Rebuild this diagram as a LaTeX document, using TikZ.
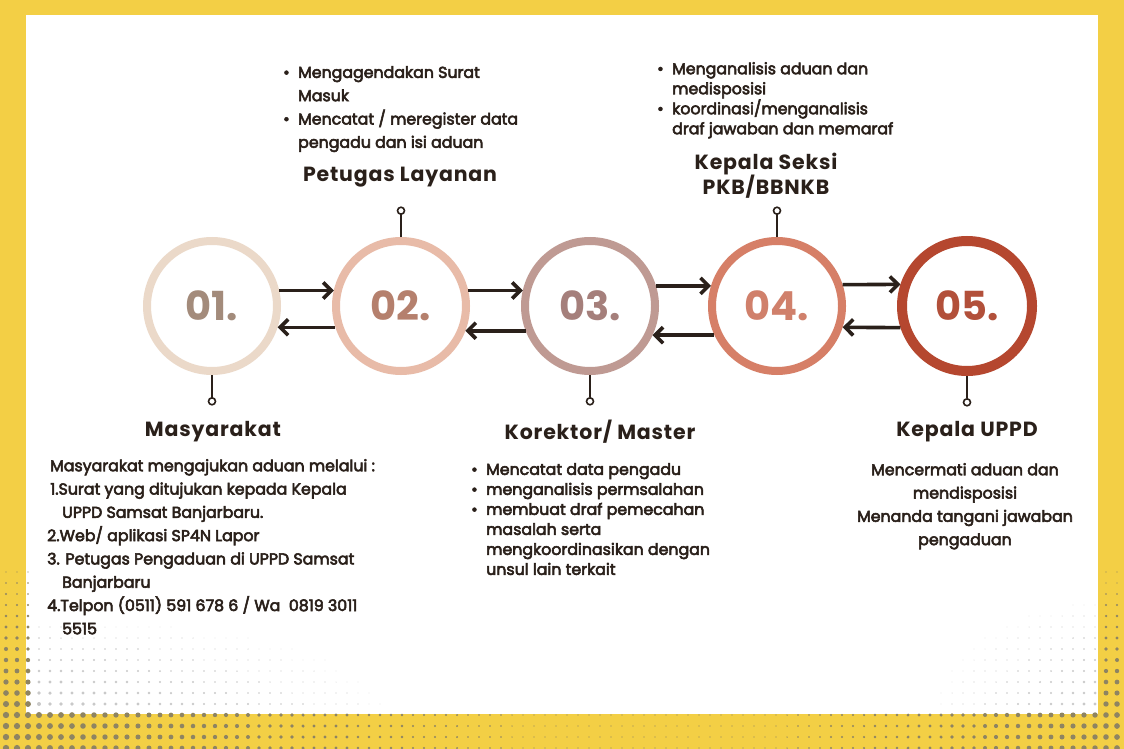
\documentclass[tikz,border=0pt]{standalone}
\usepackage{fontspec}
\setmainfont{Poppins}
\newfontfamily\bodyfont{Poppins}[FakeBold=3.5]
\newfontfamily\titlefont{Poppins}[LetterSpace=4]
\usetikzlibrary{arrows.meta, positioning}
\definecolor{bgYellow}{HTML}{F3CF45}
\definecolor{inkDark}{HTML}{2A201A}
\definecolor{dotOlive}{HTML}{8E8462}
\definecolor{dotGray}{HTML}{C9C9C9}
\definecolor{ringA}{HTML}{EBD9C9}
\definecolor{ringB}{HTML}{E8BBA8}
\definecolor{ringC}{HTML}{BF9A93}
\definecolor{ringD}{HTML}{D67F67}
\definecolor{ringE}{HTML}{B5472F}
\definecolor{numA}{HTML}{A38B7B}
\definecolor{numB}{HTML}{B5806D}
\definecolor{numC}{HTML}{A57F7B}
\definecolor{numD}{HTML}{D0806B}
\definecolor{numE}{HTML}{B2503A}
\newcommand{\bul}{\makebox[15pt][l]{\textbullet}}
\newcommand{\ind}{\hspace*{15pt}}
\tikzset{
    % Shapes
    ring/.style={circle, line width=8pt, minimum size=130pt, inner sep=0pt, fill=white,
                 font=\fontsize{40}{40}\selectfont\bfseries},
    pinDot/.style={circle, draw=inkDark, line width=1.6pt, minimum size=7pt, inner sep=0pt, fill=white},
    % Flow & Labels
    flow/.style={line width=3.6pt, draw=inkDark, -{Straight Barb[length=8pt, width=16pt]}},
    pinLine/.style={line width=1.5pt, draw=inkDark},
    title/.style={font=\titlefont\bfseries\fontsize{20.5}{25}\selectfont, text=inkDark, align=center, inner sep=0pt},
    body/.style={font=\bodyfont\fontsize{15.8}{23.3}\selectfont, text=inkDark, align=left, inner sep=0pt}
}
\begin{document}
\begin{tikzpicture}[x=1pt, y=-1pt]

% frame
\fill[bgYellow] (0,0) rectangle (1124,749);
\useasboundingbox (0,0) rectangle (1124,749);
\fill[white] (26,15) rectangle (1098,714);

% halftone dots
\foreach \i in {0,...,101}{
  \foreach \j in {0,...,17}{
    \pgfmathsetmacro\dx{6+11*\i}
    \pgfmathsetmacro\dy{561+11*\j}
    \pgfmathtruncatemacro\inwhite{(\dx>28)&&(\dx<1096)&&(\dy<712)}
    \ifnum\inwhite=1
      \pgfmathsetmacro\rad{max(2.3*max(0,1-\dx/470)*max(0,(\dy-595)/115), 1.7*max(0,(\dx-880)/215)*max(0,(\dy-565)/145))}
      \ifdim\rad pt>0.4pt \fill[dotGray] (\dx,\dy) circle[radius=\rad]; \fi
    \else
      \pgfmathsetmacro\rad{(0.7+2.5*max(0,1-\dx/520)+2.2*max(0,(\dx-780)/344))*min(1,max(0,(\dy-540)/170))}
      \ifdim\rad pt>0.4pt \fill[dotOlive] (\dx,\dy) circle[radius=\rad]; \fi
    \fi
  }
}

% steps
\node[ring, draw=ringA, text=numA] (c1) at (212,306) {01.};
\node[ring, draw=ringB, text=numB, right=51pt of c1] (c2) {02.};
\node[ring, draw=ringC, text=numC, right=51pt of c2] (c3) {03.};
\node[ring, draw=ringD, text=numD, right=49pt of c3] (c4) {04.};
\node[ring, draw=ringE, text=numE, right=51pt of c4, line width=10pt, minimum size=130pt] (c5) {05.};

\draw[flow] (c1.13) -- (c2.167);
\draw[flow] (c2.-162) -- (c1.-18);
\draw[flow] (c2.13) -- (c3.167);
\draw[flow] (c3.-159) -- (c2.-21);
\draw[flow] (c3.17) -- (c4.163);
\draw[flow] (c4.-155) -- (c3.-25);
\draw[flow] (c4.18) -- (c5.162);
\draw[flow] (c5.-162) -- (c4.-18);

% pins
\node[pinDot, below=22pt of c1] (p1) {};
\node[pinDot, above=22pt of c2] (p2) {};
\node[pinDot, below=22pt of c3] (p3) {};
\node[pinDot, above=22pt of c4] (p4) {};
\node[pinDot, below=22pt of c5] (p5) {};
\foreach \n in {1,...,5} \draw[pinLine] (c\n) -- (p\n);

% titles
\node[title] (t1) at (213,432) {Masyarakat};
\node[title] (t2) at (400,177) {Petugas Layanan};
\node[title] (t3) at (600,432) {Korektor/ Master};
\node[title] (t4) at (766,176) {Kepala Seksi\\PKB/BBNKB};
\node[title] (t5) at (967,432) {Kepala UPPD};

% descriptions
\node[body, anchor=north west] (d1) at (47,459) {%
\hspace*{3pt}Masyarakat mengajukan aduan melalui :\\
\hspace*{3pt}1.Surat yang ditujukan kepada Kepala\\
\ind UPPD Samsat Banjarbaru.\\
2.Web/ aplikasi SP4N Lapor\\
3. Petugas Pengaduan di UPPD Samsat\\
\ind Banjarbaru\\
4.Telpon (0511) 591 678 6 / Wa~~0819 3011\\
\ind 5515};
\node[body, anchor=north west] (d2) at (283,66) {%
\bul Mengagendakan Surat\\
\ind Masuk\\
\bul Mencatat / meregister data\\
\ind pengadu dan isi aduan};
\node[body, anchor=north west, font=\bodyfont\fontsize{15.8}{20}\selectfont] (d3) at (471,463) {%
\bul Mencatat data pengadu\\
\bul menganalisis permsalahan\\
\bul membuat draf pemecahan\\
\ind masalah serta\\
\ind mengkoordinasikan dengan\\
\ind unsul lain terkait};
\node[body, anchor=north west, font=\bodyfont\fontsize{15.8}{20}\selectfont] (d4) at (657,62) {%
\bul Menganalisis aduan dan\\
\ind medisposisi\\
\bul koordinasi/menganalisis\\
\ind draf jawaban dan memaraf};
\node[body, anchor=north, align=center] (d5) at (965,463) {%
Mencermati aduan dan\\
mendisposisi\\
Menanda tangani jawaban\\
pengaduan};

\end{tikzpicture}
\end{document}
